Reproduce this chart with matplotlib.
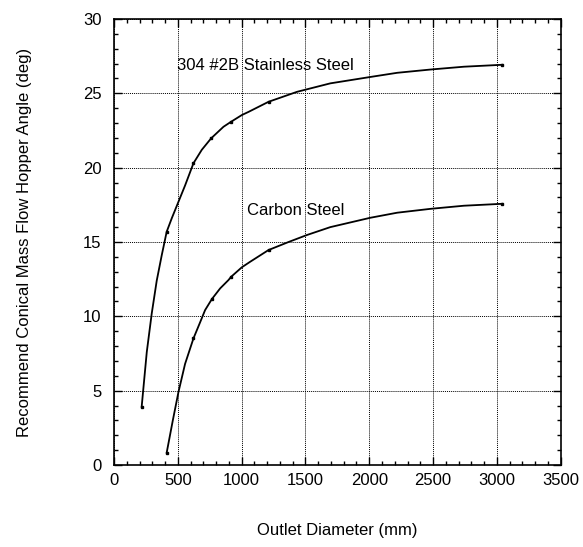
import matplotlib
matplotlib.use("Agg")
import matplotlib.pyplot as plt
from matplotlib.ticker import MultipleLocator

plt.rcParams['font.family'] = ['Liberation Sans', 'DejaVu Sans']

# 304 #2B stainless steel curve
ss_x = [217, 257, 296, 335, 374, 413, 453, 505, 557, 623, 688, 761, 858, 918,
        1002, 1054, 1211, 1434, 1695, 2009, 2219, 2480, 2742, 3043]
ss_y = [3.92, 7.6, 10.2, 12.4, 14.1, 15.69, 16.6, 17.7, 18.8, 20.3, 21.2, 21.97, 22.75, 23.09,
        23.54, 23.75, 24.43, 25.1, 25.67, 26.1, 26.38, 26.6, 26.79, 26.92]
# Carbon steel curve
cs_x = [413, 461, 505, 557, 623, 675, 714, 767, 832, 897, 918, 1002, 1067, 1211,
        1368, 1512, 1695, 2009, 2219, 2480, 2742, 3043]
cs_y = [0.83, 3.0, 4.9, 6.8, 8.52, 9.6, 10.42, 11.16, 11.88, 12.44, 12.66, 13.3, 13.67, 14.46,
        15.0, 15.47, 16.0, 16.63, 16.97, 17.23, 17.44, 17.57]
# measured points (small markers)
ss_pts_x = [217, 413, 623, 761, 918, 1211, 3043]
ss_pts_y = [3.92, 15.69, 20.3, 21.97, 23.09, 24.43, 26.92]
cs_pts_x = [413, 623, 767, 918, 1211, 3043]
cs_pts_y = [0.83, 8.52, 11.16, 12.66, 14.46, 17.57]

x_ticks = [0, 500, 1000, 1500, 2000, 2500, 3000, 3500]
y_ticks = [0, 5, 10, 15, 20, 25, 30]

fig = plt.figure(figsize=(5.83, 5.47), dpi=100)
ax = fig.add_axes([0.1955, 0.1499, 0.7662, 0.8154])
ax.plot(ss_x, ss_y, color='black', lw=1.3)
ax.plot(cs_x, cs_y, color='black', lw=1.3)
ax.plot(ss_pts_x, ss_pts_y, 's', color='black', ms=1.8)
ax.plot(cs_pts_x, cs_pts_y, 's', color='black', ms=1.8)

ax.set_xlim(0, 3500)
ax.set_ylim(0, 30)
ax.set_xticks(x_ticks)
ax.set_yticks(y_ticks)
ax.xaxis.set_minor_locator(MultipleLocator(100))
ax.yaxis.set_minor_locator(MultipleLocator(1))
ax.tick_params(which='both', direction='in', top=True, right=True, labelsize=12, width=1)
ax.tick_params(which='major', length=6)
ax.tick_params(which='minor', length=3)
ax.tick_params(axis='x', which='major', pad=6)
ax.tick_params(axis='y', which='major', pad=9)
ax.grid(True, which='major', linestyle=(0, (1, 1)), color='black', lw=0.7)
for s in ax.spines.values():
    s.set_linewidth(1.2)

ax.text(497, 26.9, '304 #2B Stainless Steel', fontsize=12, va='center', ha='left')
ax.text(1042, 17.15, 'Carbon Steel', fontsize=12, va='center', ha='left')

ax.set_xlabel('Outlet Diameter (mm)', fontsize=12)
ax.set_ylabel('Recommend Conical Mass Flow Hopper Angle (deg)', fontsize=12)
ax.xaxis.label.set_va('center')
ax.yaxis.label.set_va('center')
ax.xaxis.set_label_coords(0.5, -0.146)
ax.yaxis.set_label_coords(-0.20, 0.5)

fig.savefig('out.png', dpi=100)
